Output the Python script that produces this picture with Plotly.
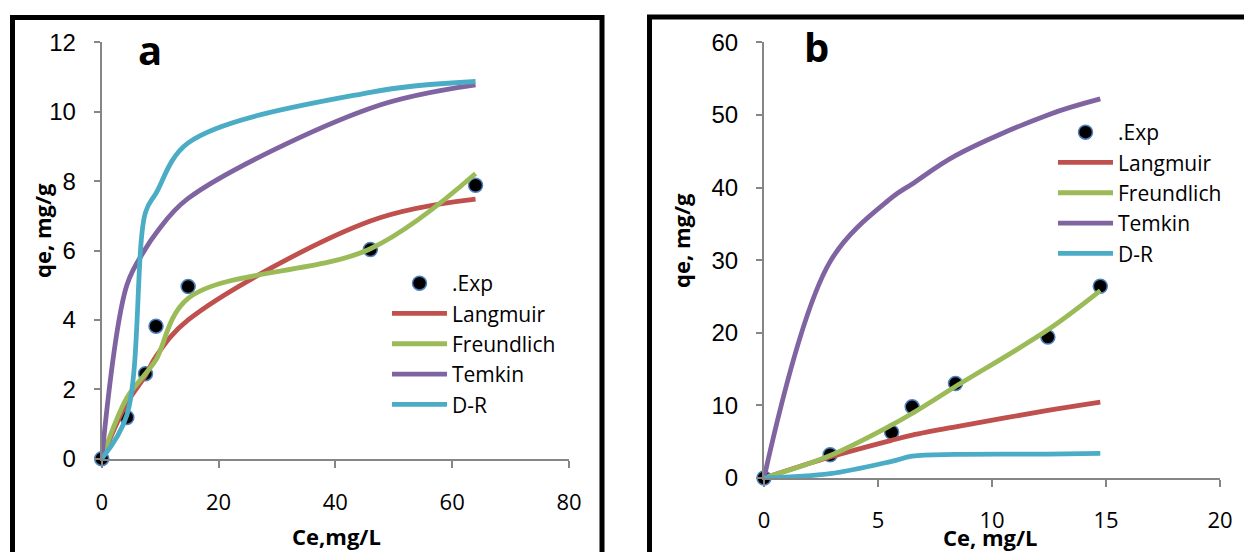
import plotly.graph_objects as go

W, H = 1244, 552

# Panel a: equilibrium concentration (mg/L) and uptake (mg/g)
ce_a = [0, 4.3, 7.5, 9.3, 14.8, 46.0, 64.0]
exp_a = [0, 1.19, 2.45, 3.82, 4.96, 6.03, 7.88]
langmuir_a = [0, 1.6, 2.4, 2.95, 4.0, 6.85, 7.48]
freundlich_a = [0, 1.75, 2.45, 2.85, 4.62, 6.05, 8.22]
temkin_a = [0, 5.0, 6.05, 6.5, 7.5, 10.1, 10.77]
dr_a = [0, 1.25, 7.1, 7.65, 9.1, 10.56, 10.87]

# Panel b
ce_b = [0, 2.9, 5.6, 6.5, 8.4, 12.45, 14.75]
exp_b = [0, 3.2, 6.3, 9.8, 13.0, 19.4, 26.4]
langmuir_b = [0, 2.9, 5.2, 5.9, 7.05, 9.3, 10.45]
freundlich_b = [0, 3.1, 7.3, 8.9, 12.6, 20.4, 25.8]
temkin_b = [0, 29.8, 38.6, 40.5, 44.4, 50.0, 52.2]
dr_b = [0, 0.6, 2.3, 3.0, 3.25, 3.3, 3.4]

model_names = ["Langmuir", "Freundlich", "Temkin", "D-R"]
model_colors = ["#C0504D", "#9BBB59", "#8064A2", "#4BACC6"]

CAL = "Open Sans"
ARIAL = "Liberation Sans, Arial"


def px(x):
    return x / W


def py(y):
    return 1 - y / H


fig = go.Figure()


def add_panel(ce, exp, models, xa, ya, legend):
    fig.add_trace(go.Scatter(
        x=ce, y=exp, mode="markers", name=".Exp", xaxis=xa, yaxis=ya,
        legend=legend, cliponaxis=False,
        marker=dict(size=14, color="black", line=dict(color="#4F81BD", width=1.5)),
    ))
    for name, color, vals in zip(model_names, model_colors, models):
        fig.add_trace(go.Scatter(
            x=ce, y=vals, mode="lines", name=name, xaxis=xa, yaxis=ya,
            legend=legend, cliponaxis=False,
            line=dict(color=color, width=4.8, shape="spline", smoothing=1),
        ))


add_panel(ce_a, exp_a, [langmuir_a, freundlich_a, temkin_a, dr_a], "x", "y", "legend")
add_panel(ce_b, exp_b, [langmuir_b, freundlich_b, temkin_b, dr_b], "x2", "y2", "legend2")

axis_common = dict(
    showline=True, linecolor="#868686", linewidth=2,
    ticks="outside", tickcolor="#868686", tickwidth=2,
    showgrid=False, zeroline=False, fixedrange=True, automargin=False,
)
xtick_font = dict(family=CAL, size=22, color="black")
ytick_font = dict(family=ARIAL, size=24, color="black")
legend_font = dict(family=CAL, size=21, color="black")

fig.update_layout(
    width=W, height=H,
    margin=dict(l=0, r=0, t=0, b=0, autoexpand=False),
    paper_bgcolor="white", plot_bgcolor="white",
    xaxis=dict(domain=[px(101.7), px(569)], range=[0, 80], dtick=20, anchor="y",
               ticklen=7, ticklabelstandoff=16, tickfont=xtick_font, **axis_common),
    yaxis=dict(domain=[py(458.7), py(42.3)], range=[0, 12], dtick=2, anchor="x",
               ticklen=6, ticklabelstandoff=13, tickfont=ytick_font, **axis_common),
    xaxis2=dict(domain=[px(764), px(1220)], range=[0, 20], dtick=5, anchor="y2",
                ticklen=7, ticklabelstandoff=15, tickfont=xtick_font, **axis_common),
    yaxis2=dict(domain=[py(478), py(42.3)], range=[0, 60], dtick=10, anchor="x2",
                ticklen=6, ticklabelstandoff=13, tickfont=ytick_font, **axis_common),
    legend=dict(x=px(387), y=py(263), xanchor="left", yanchor="top",
                bgcolor="rgba(0,0,0,0)", itemwidth=55, font=legend_font),
    legend2=dict(x=px(1053), y=py(112), xanchor="left", yanchor="top",
                 bgcolor="rgba(0,0,0,0)", itemwidth=55, font=legend_font),
    showlegend=True,
)

# panel frames
fig.add_shape(type="rect", xref="paper", yref="paper",
              x0=px(12.5), x1=px(602), y0=py(600), y1=py(17.5),
              line=dict(color="black", width=5), layer="above")
fig.add_shape(type="rect", xref="paper", yref="paper",
              x0=px(649.5), x1=px(1300), y0=py(600), y1=py(17),
              line=dict(color="black", width=5), layer="above")

title_font = dict(family=CAL, size=22, color="black")
annotations = [
    dict(text="<b>Ce,mg/L</b>", x=px(336), y=py(536)),
    dict(text="<b>Ce, mg/L</b>", x=px(990), y=py(537)),
    dict(text="<b>qe, mg/g</b>", x=px(42), y=py(231), textangle=-90),
    dict(text="<b>qe, mg/g</b>", x=px(681), y=py(241), textangle=-90),
]
for a in annotations:
    fig.add_annotation(xref="paper", yref="paper", showarrow=False,
                       xanchor="center", yanchor="middle", font=title_font, **a)

panel_font = dict(family=CAL, size=40, color="black")
fig.add_annotation(text="<b>a</b>", x=px(150), y=py(50), xref="paper", yref="paper",
                   showarrow=False, xanchor="center", yanchor="middle", font=panel_font)
fig.add_annotation(text="<b>b</b>", x=px(816), y=py(46), xref="paper", yref="paper",
                   showarrow=False, xanchor="center", yanchor="middle", font=panel_font)

fig.write_html(
    "out.html",
    post_script="document.body.style.margin='0';document.body.style.overflow='hidden';",
)
